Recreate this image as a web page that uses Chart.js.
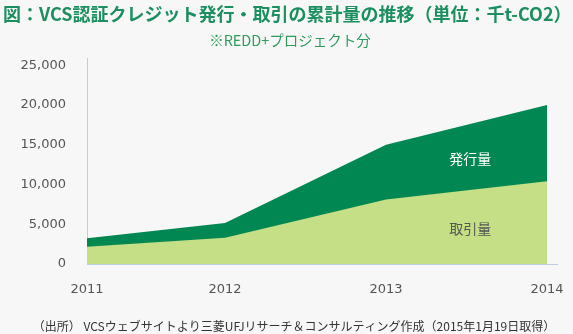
<!DOCTYPE html>
<html lang="ja">
<head>
<meta charset="utf-8">
<title>VCS認証クレジット発行・取引の累計量の推移</title>
<script src="https://cdn.jsdelivr.net/npm/chart.js@4"></script>
<style>
html, body { margin: 0; padding: 0; background: #f7f7f7; }
#wrap { position: relative; width: 573px; height: 334px; }
</style>
</head>
<body>
<div id="wrap"><canvas id="credit-chart"></canvas></div>
<script>
// cumulative volumes, thousand t-CO2 (REDD+ projects)
const years = ['2011', '2012', '2013', '2014'];
const yearPos = [2011, 2011.9, 2012.95, 2014];   // where each record sits on the year axis
const issued = [3230, 5150, 15000, 20000];       // 発行量
const traded = [2170, 3300, 8100, 10400];        // 取引量
const yTicks = [0, 5000, 10000, 15000, 20000, 25000];

const titleText = '図：VCS認証クレジット発行・取引の累計量の推移（単位：千t-CO2）';
const subText = '※REDD+プロジェクト分';
const sourceText = '（出所） VCSウェブサイトより三菱UFJリサーチ＆コンサルティング作成（2015年1月19日取得）';

const jp = '"Noto Sans CJK JP", "Noto Sans", sans-serif';

// titles, source line and the two area names
const captions = {
  id: 'captions',
  afterDraw(chart) {
    const ctx = chart.ctx;
    const xs = chart.scales.x, ys = chart.scales.y;
    ctx.save();
    ctx.textBaseline = 'middle';

    ctx.font = 'bold 18px ' + jp;
    ctx.fillStyle = '#1b8f5f';
    ctx.textAlign = 'left';
    ctx.fillText(titleText, 3, 14);

    ctx.font = '14.5px ' + jp;
    ctx.fillStyle = '#2f9b5c';
    ctx.textAlign = 'center';
    ctx.fillText(subText, 290, 40);

    ctx.font = '12px ' + jp;
    ctx.fillStyle = '#333';
    ctx.fillText(sourceText, 294, 326);

    ctx.font = '14px ' + jp;
    ctx.fillStyle = '#ffffff';
    ctx.fillText('発行量', xs.getPixelForValue(2013.5), ys.getPixelForValue(13200));
    ctx.fillStyle = '#555';
    ctx.fillText('取引量', xs.getPixelForValue(2013.5), ys.getPixelForValue(4400));
    ctx.restore();
  }
};

const tickFont = { family: '"DejaVu Sans", Verdana, sans-serif', size: 13 };

new Chart(document.getElementById('credit-chart'), {
  type: 'line',
  data: {
    datasets: [
      {
        label: '取引量',
        data: yearPos.map((x, i) => ({ x: x, y: traded[i] })),
        backgroundColor: '#c5df86',
        borderWidth: 0,
        pointRadius: 0,
        fill: 'origin'
      },
      {
        label: '発行量',
        data: yearPos.map((x, i) => ({ x: x, y: issued[i] })),
        backgroundColor: '#008752',
        borderWidth: 0,
        pointRadius: 0,
        fill: 'origin'
      }
    ]
  },
  options: {
    responsive: true,
    maintainAspectRatio: false,
    animation: false,
    layout: { padding: { top: 58, right: 16, bottom: 30, left: 0 } },
    scales: {
      x: {
        type: 'linear',
        min: yearPos[0],
        max: yearPos[yearPos.length - 1] + 0.065,
        grid: { display: false, tickLength: 18 },
        border: { color: '#bccfe0', width: 1 },
        afterBuildTicks: (scale) => { scale.ticks = yearPos.map(v => ({ value: v })); },
        afterFit: (scale) => { scale.height = 40; },
        ticks: {
          autoSkip: false,
          maxRotation: 0,
          padding: 0,
          color: '#555',
          font: tickFont,
          callback: (val, i) => years[i]
        }
      },
      y: {
        min: 0,
        max: 25900,
        grid: { display: false },
        border: { color: '#bccfe0', width: 1 },
        afterBuildTicks: (scale) => { scale.ticks = yTicks.map(v => ({ value: v })); },
        afterFit: (scale) => { scale.width = 87; },
        ticks: {
          padding: 13,
          color: '#555',
          font: tickFont,
          callback: (val) => val.toLocaleString('en-US')
        }
      }
    },
    plugins: {
      legend: { display: false },
      tooltip: { enabled: false }
    }
  },
  plugins: [captions]
});
</script>
</body>
</html>
